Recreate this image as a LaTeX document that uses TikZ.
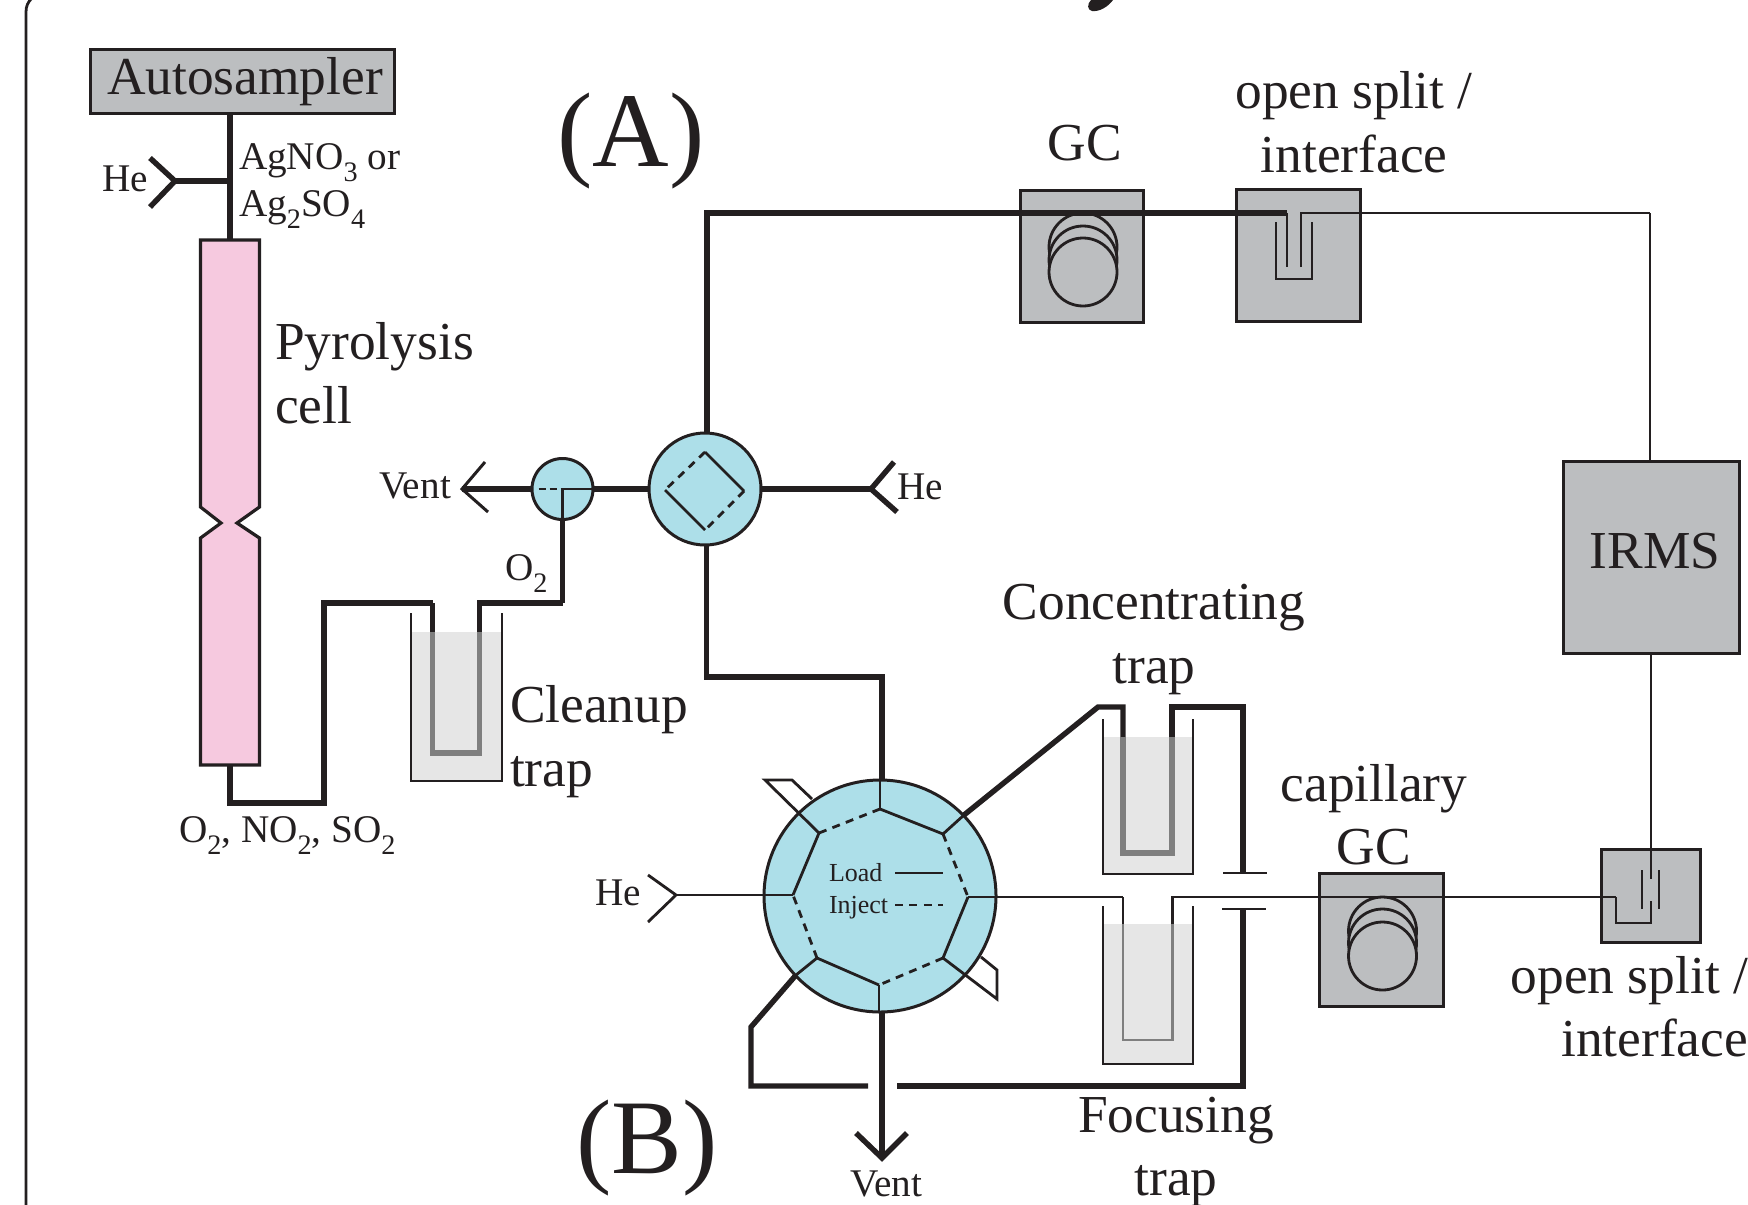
\documentclass[tikz,border=0pt]{standalone}
\usepackage{fontspec}
\usepackage{graphicx}
\setmainfont{Liberation Serif}
\definecolor{ink}{HTML}{231F20}
\definecolor{valveblue}{HTML}{ADDFE9}
\definecolor{cellpink}{HTML}{F6C9DF}
\definecolor{boxgray}{HTML}{BCBEC0}
\definecolor{liquid}{HTML}{E6E6E6}
\definecolor{tubegray}{HTML}{7F7F7F}
\newcommand{\lowsub}[1]{\raisebox{-.33em}{\scalebox{.72}{#1}}}
\tikzset{
  heavyline/.style={draw=ink,line width=2.7pt,line join=miter},
  lightline/.style={draw=ink,line width=1.4pt},
  dashline/.style={draw=ink,line width=1.4pt,dash pattern=on 4pt off 3.2pt},
  graybox/.style={draw=ink,line width=1.5pt,fill=boxgray,rectangle,inner sep=0,outer sep=0},
  valvedisc/.style={draw=ink,line width=1.5pt,fill=valveblue,circle,inner sep=0,outer sep=0},
  coilring/.style={draw=ink,line width=1.4pt,fill=boxgray,circle,minimum size=34pt,inner sep=0,outer sep=0},
  bigtext/.style={inner sep=0,outer sep=0,text=ink,font=\fontsize{26.7}{30}\selectfont},
  smalltext/.style={inner sep=0,outer sep=0,text=ink,font=\fontsize{19.6}{22}\selectfont},
  tinytext/.style={inner sep=0,outer sep=0,text=ink,font=\fontsize{13}{15}\selectfont},
  hugetext/.style={inner sep=0,outer sep=0,text=ink,font=\fontsize{53}{60}\selectfont},
}
\begin{document}
\begin{tikzpicture}[x=.5pt,y=-.5pt]
\path[use as bounding box] (0,0) rectangle (1748,1204);
\clip (0,0) rectangle (1748,1204);
% frame and cut-off title tail
\draw[lightline] (26,1210) -- (26,12) .. controls (26,6) and (28,2) .. (32,-2);
\fill[ink] (1113,0) .. controls (1108,7) and (1099,12) .. (1092,11) .. controls (1087,10) and (1087,4) .. (1091,0) -- cycle;

% ---------- named points
\coordinate (cellT) at (230,240);
\coordinate (cellB) at (230,765);
\coordinate (autoOut) at (230,114);
\coordinate (heJoin) at (230,181);
\coordinate (heTipA) at (175,181);
\coordinate (heArmA1) at (150,158);
\coordinate (heArmA2) at (150,207);
\coordinate (b1) at (230,803);
\coordinate (b2) at (324,803);
\coordinate (b3) at (324,603);
\coordinate (b4) at (432.5,603);
\coordinate (b5) at (479.6,603);
\coordinate (b6) at (562.5,603);
\coordinate (ventTipA) at (462,489);
\coordinate (ventArm1) at (485,462);
\coordinate (ventArm2) at (488,512);
\coordinate (heTipB) at (871,489);
\coordinate (heArmB1) at (894,462);
\coordinate (heArmB2) at (897,512);

% ---------- pyrolysis cell
\draw[lightline,fill=cellpink,line width=1.6pt] (200.5,240) -- (259.5,240) -- (259.5,507) -- (237,523) -- (259.5,538) -- (259.5,765) -- (200.5,765) -- (200.5,538) -- (221,523) -- (200.5,507) -- cycle;
\node[graybox,minimum width=152pt,minimum height=32pt] (auto) at (242,81.5) {};
\node[bigtext,anchor=base west] (autotext) at (107,95) {Autosampler};
\draw[heavyline] (autoOut) -- (cellT);
\draw[heavyline] (heJoin) -- (heTipA);
\draw[heavyline] (heArmA1) -- (heTipA) -- (heArmA2);
\draw[heavyline] (cellB) -- (b1) -- (b2) -- (b3) -- (b4);

% ---------- cleanup trap
\fill[liquid] (411,632) rectangle (502,780);
\draw[lightline] (411,613) -- (411,781) -- (502,781) -- (502,613);
\draw[heavyline] (b4) -- (432.5,632);
\draw[heavyline] (479.6,632) -- (b5) -- (b6);
\draw[heavyline,draw=tubegray] (432.5,632) -- (432.5,753) -- (479.6,753) -- (479.6,632);

% ---------- switching valves
\node[valvedisc,minimum size=30.5pt] (sv) at (562.5,489) {};
\node[valvedisc,minimum size=56pt] (mv) at (705,489) {};
\coordinate (svC) at (562.5,489);
\coordinate (mvT) at (705,452);
\coordinate (mvR) at (744,491);
\coordinate (mvB) at (705,530);
\coordinate (mvL) at (665,490);
\coordinate (mvTop) at (707,434);
\coordinate (mvBot) at (706.5,545);
\draw[lightline] (svC) -- (sv.east);
\draw[lightline] (svC) -- (sv.south);
\draw[dashline,dash pattern=on 3.5pt off 2pt] (538.6,489) -- (svC);
\draw[lightline] (mvT) -- (mvR);
\draw[lightline] (mvL) -- (mvB);
\draw[dashline] (mvT) -- (mvL);
\draw[dashline] (mvR) -- (mvB);
\draw[heavyline] (sv.west) -- (ventTipA);
\draw[lightline,line width=1.5pt] (ventArm1) -- (ventTipA) -- (ventArm2);
\draw[heavyline] (sv.east) -- (mv.west);
\draw[heavyline] (b6) -- (sv.south);
\draw[heavyline] (mv.east) -- (heTipB);
\draw[heavyline] (heArmB1) -- (heTipB) -- (heArmB2);

% ---------- GC and upper interface
\coordinate (t1) at (707,213);
\coordinate (t2) at (1287,213);
\coordinate (t3) at (1301,213);
\coordinate (t4) at (1650,213);
\node[graybox,minimum width=61.5pt,minimum height=66pt] (gc1) at (1081.5,256) {};
\node[graybox,minimum width=62pt,minimum height=66pt] (os1) at (1298,255) {};
\foreach \n/\yy in {a/247,b/260,c/272}{
  \node[coilring] (coil1\n) at (1083,\yy) {};
}
\draw[heavyline] (mvTop) -- (t1) -- (t2);
\draw[lightline] (t2) -- (1287,267);
\draw[lightline] (1301,267) -- (t3) -- (t4);
\draw[lightline] (1276,222) -- (1276,279) -- (1312,279) -- (1312,222);

% ---------- IRMS
\node[graybox,minimum width=88pt,minimum height=96pt] (irms) at (1651,557) {};
\node[bigtext,anchor=base] (irmstext) at (1655,568) {IRMS};
\draw[lightline] (t4) -- (1650,461);

% ---------- concentrating and focusing traps
\fill[liquid] (1103,737) rectangle (1193,874);
\draw[lightline] (1103,719) -- (1103,874) -- (1193,874) -- (1193,719);
\fill[liquid] (1103,924) rectangle (1193,1064);
\draw[lightline] (1103,906) -- (1103,1064) -- (1193,1064) -- (1193,906);

% rotary valve
\node[valvedisc,minimum size=116pt] (rv) at (880,896) {};
\coordinate (p1) at (880,809);
\coordinate (p2) at (943,834);
\coordinate (p3) at (968,897);
\coordinate (p4) at (943,958);
\coordinate (p5) at (879,985);
\coordinate (p6) at (817,958);
\coordinate (p7) at (793,895);
\coordinate (p8) at (819,833);
\coordinate (r2) at (964,815);
\coordinate (r6) at (796,975);
\draw[lightline] (p1) -- (880,780);
\draw[lightline] (p5) -- (879,1012);
\draw[lightline] (p1) -- (p2);
\draw[lightline] (p3) -- (p4);
\draw[lightline] (p5) -- (p6);
\draw[lightline] (p7) -- (p8);
\draw[dashline] (p2) -- (p3);
\draw[dashline] (p4) -- (p5);
\draw[dashline] (p6) -- (p7);
\draw[dashline] (p8) -- (p1);
\draw[lightline] (p2) -- (r2);
\draw[lightline] (p6) -- (r6);
% loops of the unused ports
\coordinate (s1) at (765,780);
\coordinate (s2) at (792,780);
\coordinate (s3) at (812,799);
\coordinate (s4) at (997,999);
\coordinate (s5) at (997,970);
\coordinate (s6) at (981,957);
\draw[lightline] (p8) -- (s1) -- (s2) -- (s3);
\draw[lightline] (p4) -- (s4) -- (s5) -- (s6);
% thick tubes
\coordinate (m1) at (706.5,677);
\coordinate (m2) at (882,677);
\draw[heavyline] (mvBot) -- (m1) -- (m2) -- (882,780);
\coordinate (c1) at (1098,707);
\coordinate (c2) at (1123,707);
\coordinate (c3) at (1172,707);
\coordinate (c4) at (1243,707);
\coordinate (c5) at (1243,873);
\coordinate (c6) at (1243,909);
\coordinate (c7) at (1243,1086);
\coordinate (c8) at (897,1086);
\coordinate (c9) at (868,1086);
\coordinate (c10) at (751,1086);
\coordinate (c11) at (751,1027);
\draw[heavyline] (r2) -- (c1) -- (c2) -- (1123,737);
\draw[heavyline,draw=tubegray] (1123,737) -- (1123,853) -- (1172,853) -- (1172,737);
\draw[heavyline] (1172,737) -- (c3) -- (c4) -- (c5);
\draw[lightline] (1223,873) -- (1267,873);
\draw[lightline] (1222,909) -- (1266,909);
\draw[heavyline] (c6) -- (c7) -- (c8);
\draw[heavyline] (c9) -- (c10) -- (c11) -- (r6);
% vent arrow
\coordinate (ventTipB) at (882,1158);
\draw[heavyline] (882,1012) -- (ventTipB);
\draw[heavyline] (856,1133) -- (ventTipB) -- (907,1133);
% He inlet
\coordinate (heTipC) at (676,895);
\draw[lightline] (p7) -- (heTipC);
\draw[lightline] (648,875) -- (heTipC) -- (648,922);

% ---------- capillary GC, lower interface
\node[graybox,minimum width=62pt,minimum height=66.5pt] (gc2) at (1381,939.5) {};
\foreach \n/\yy in {a/931,b/943,c/956}{
  \node[coilring] (coil2\n) at (1382.5,\yy) {};
}
\node[graybox,minimum width=49.75pt,minimum height=46.5pt] (os2) at (1651,895.5) {};
\coordinate (f1) at (1123,897);
\coordinate (f2) at (1172.5,897);
\coordinate (f3) at (1616,897);
\draw[lightline] (p3) -- (f1);
\draw[lightline] (f1) -- (1123,924);
\draw[lightline,draw=tubegray] (1123,924) -- (1123,1040) -- (1172.5,1040) -- (1172.5,924);
\draw[lightline] (1172.5,924) -- (f2) -- (f3);
\draw[lightline] (f3) -- (1616,923) -- (1651,923) -- (1651,901);
\draw[lightline] (irms.south) -- (1651,879);
\draw[lightline] (1642,870) -- (1642,909);
\draw[lightline] (1659,870) -- (1659,909);

% ---------- labels
\node[hugetext,anchor=base] (la) at (631,166) {(A)};
\node[hugetext,anchor=base] (lb) at (647,1173) {(B)};
\node[smalltext,anchor=base west] (lhe1) at (102,191) {He};
\node[smalltext,anchor=base west] (lag1) at (239,169) {AgNO\lowsub{3} or};
\node[smalltext,anchor=base west] (lag2) at (239,216) {Ag\lowsub{2}SO\lowsub{4}};
\node[bigtext,anchor=base west] (lpy1) at (275,359) {Pyrolysis};
\node[bigtext,anchor=base west] (lpy2) at (275,423) {cell};
\node[smalltext,anchor=base west] (lgas) at (179,842) {O\lowsub{2}, NO\lowsub{2}, SO\lowsub{2}};
\node[smalltext,anchor=base west] (lvent1) at (379,498) {Vent};
\node[smalltext,anchor=base west] (lo2) at (505,580) {O\lowsub{2}};
\node[smalltext,anchor=base west] (lhe2) at (897,499) {He};
\node[bigtext,anchor=base west] (lcl1) at (510,722) {Cleanup};
\node[bigtext,anchor=base west] (lcl2) at (510,786) {trap};
\node[bigtext,anchor=base] (lgc1) at (1085,160) {GC};
\node[bigtext,anchor=base] (los1) at (1354,109) {open split /};
\node[bigtext,anchor=base] (los2) at (1354,172) {interface};
\node[bigtext,anchor=base] (lco1) at (1154,619) {Concentrating};
\node[bigtext,anchor=base] (lco2) at (1154,683) {trap};
\node[bigtext,anchor=base] (lca1) at (1374,801) {capillary};
\node[bigtext,anchor=base] (lca2) at (1374,864) {GC};
\node[bigtext,anchor=base east] (los3) at (1748,993) {open split /};
\node[bigtext,anchor=base east] (los4) at (1748,1056) {interface};
\node[bigtext,anchor=base] (lfo1) at (1176,1132) {Focusing};
\node[bigtext,anchor=base] (lfo2) at (1176,1195) {trap};
\node[smalltext,anchor=base west] (lhe3) at (595,905) {He};
\node[smalltext,anchor=base] (lvent2) at (886,1196) {Vent};
\node[tinytext,anchor=base west] (lload) at (829,881) {Load};
\node[tinytext,anchor=base west] (linj) at (829,913) {Inject};
\coordinate (k1) at (895,873);
\coordinate (k2) at (943,873);
\coordinate (k3) at (895,905);
\coordinate (k4) at (943,905);
\draw[lightline] (k1) -- (k2);
\draw[dashline] (k3) -- (k4);
\end{tikzpicture}
\end{document}
